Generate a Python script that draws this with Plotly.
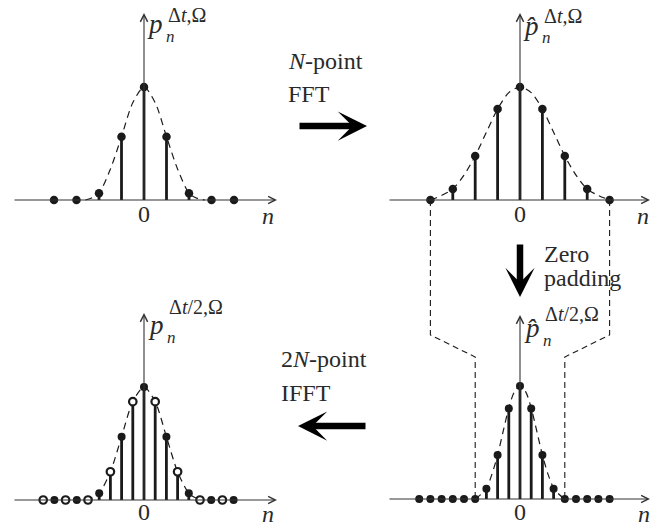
import plotly.graph_objects as go

W, H = 659, 531

# ---------------- data ----------------
n_N = [-4, -3, -2, -1, 0, 1, 2, 3, 4]
p_N = [0, 0, 0.06, 0.56, 1, 0.56, 0.06, 0, 0]
ph_N = [0, 0.097, 0.39, 0.805, 1, 0.805, 0.39, 0.097, 0]

n_2N = list(range(-9, 9))
p_2N = [0, 0, 0, 0, 0, 0.06, 0.25, 0.56, 0.87, 1, 0.87, 0.56, 0.25, 0.06, 0, 0, 0, 0]
ph_2N = [0, 0, 0, 0, 0, 0, 0.09, 0.39, 0.80, 1, 0.80, 0.39, 0.09, 0, 0, 0, 0, 0]

env1_n = [-2.6, -2.3, -2, -1.5, -1, -0.5, 0, 0.5, 1, 1.5, 2, 2.3, 2.7]
env1_v = [0, 0.02, 0.06, 0.27, 0.56, 0.86, 1, 0.86, 0.56, 0.27, 0.06, 0.02, 0]
env2_n = [-4, -3.5, -3, -2.5, -2, -1.5, -1, -0.5, 0, 0.5, 1, 1.5, 2, 2.5, 3, 3.5, 4]
env2_v = [0, 0.04, 0.097, 0.22, 0.39, 0.60, 0.805, 0.95, 1, 0.95, 0.805, 0.60, 0.39, 0.22, 0.097, 0.04, 0]
env3_n = [-5.2, -4.6, -4, -3, -2, -1, 0, 1, 2, 3, 4, 4.6, 5.3]
env3_v = [0, 0.02, 0.06, 0.25, 0.56, 0.87, 1, 0.87, 0.56, 0.25, 0.06, 0.02, 0]
env4_n = env2_n
env4_v = env2_v

# ---------------- geometry helpers ----------------
panels = [
    dict(box=(0, 292, 0, 245), ox=144, oy=200, sx=22.5, sy=113),
    dict(box=(372, 659, 0, 245), ox=520, oy=200, sx=22.4, sy=113),
    dict(box=(0, 292, 290, 531), ox=144, oy=500, sx=11.2, sy=113),
    dict(box=(372, 659, 290, 531), ox=520, oy=499, sx=11.2, sy=113),
]

def px(x):
    return x / W

def py(y):
    return 1 - y / H

fig = go.Figure()
layout_axes = {}
for i, p in enumerate(panels):
    x0, x1, y0, y1 = p["box"]
    xr = [(x0 - p["ox"]) / p["sx"], (x1 - p["ox"]) / p["sx"]]
    yr = [(p["oy"] - y1) / p["sy"], (p["oy"] - y0) / p["sy"]]
    k = "" if i == 0 else str(i + 1)
    layout_axes["xaxis" + k] = dict(domain=[px(x0), px(x1)], range=xr, visible=False,
                                    anchor="y" + k, fixedrange=True)
    layout_axes["yaxis" + k] = dict(domain=[py(y1), py(y0)], range=yr, visible=False,
                                    anchor="x" + k, fixedrange=True)
    p["k"] = k

def n2px(i, n):
    p = panels[i]
    return p["ox"] + n * p["sx"]

INK = "#1a1a1a"
TXT = "#2a2a2a"
AX = "#333333"

def stems(ns, vs):
    xs, ys = [], []
    for n, v in zip(ns, vs):
        if v > 0:
            xs += [n, n, None]
            ys += [0, v, None]
    return xs, ys

def add_panel(i, ns, vs, env_n, env_v, open_mask=None, msize=8.5):
    k = panels[i]["k"]
    xa, ya = "x" + k, "y" + k
    fig.add_trace(go.Scatter(x=env_n, y=env_v, mode="lines",
                             line=dict(color=INK, width=1.2, dash="7px,5px", shape="spline", smoothing=0.8),
                             xaxis=xa, yaxis=ya, hoverinfo="skip", showlegend=False, cliponaxis=False))
    sx, sy = stems(ns, vs)
    fig.add_trace(go.Scatter(x=sx, y=sy, mode="lines", line=dict(color=INK, width=2.8),
                             xaxis=xa, yaxis=ya, hoverinfo="skip", showlegend=False))
    if open_mask is None:
        open_mask = [False] * len(ns)
    fx = [n for n, o in zip(ns, open_mask) if not o]
    fy = [v for v, o in zip(vs, open_mask) if not o]
    ox_ = [n for n, o in zip(ns, open_mask) if o]
    oy_ = [v for v, o in zip(vs, open_mask) if o]
    fig.add_trace(go.Scatter(x=fx, y=fy, mode="markers", marker=dict(color=INK, size=msize),
                             xaxis=xa, yaxis=ya, showlegend=False, cliponaxis=False))
    if ox_:
        fig.add_trace(go.Scatter(x=ox_, y=oy_, mode="markers",
                                 marker=dict(color="white", size=msize - 0.5, line=dict(color=INK, width=2.2)),
                                 xaxis=xa, yaxis=ya, showlegend=False, cliponaxis=False))

add_panel(0, n_N, p_N, env1_n, env1_v)
add_panel(1, n_N, ph_N, env2_n, env2_v)
add_panel(2, n_2N, p_2N, env3_n, env3_v, open_mask=[n % 2 != 0 for n in n_2N], msize=8)
add_panel(3, n_2N, ph_2N, env4_n, env4_v, msize=8)

annotations = []
axis_px = [(13, 277, 13), (388, 650, 13), (13, 277, 313), (388, 650, 315)]
for i, p in enumerate(panels):
    k = p["k"]
    xs, xt, yt = axis_px[i]
    annotations.append(dict(x=(xt - p["ox"]) / p["sx"], y=0, ax=(xs - p["ox"]) / p["sx"], ay=0,
                            xref="x" + k, yref="y" + k, axref="x" + k, ayref="y" + k,
                            text="", showarrow=True, arrowhead=5, arrowsize=1.3, arrowwidth=1.1, arrowcolor=AX))
    annotations.append(dict(x=0, y=(p["oy"] - yt) / p["sy"], ax=0, ay=0,
                            xref="x" + k, yref="y" + k, axref="x" + k, ayref="y" + k,
                            text="", showarrow=True, arrowhead=5, arrowsize=1.3, arrowwidth=1.1, arrowcolor=AX))

FONT = "Liberation Serif"
def txt(x, y, s, size=24, xanchor="left", yanchor="middle"):
    annotations.append(dict(x=px(x), y=py(y), xref="paper", yref="paper", text=s, showarrow=False,
                            xanchor=xanchor, yanchor=yanchor, borderpad=0,
                            font=dict(family=FONT, size=size, color=TXT)))

for (x0, y0) in [(144, 214), (520, 214), (144, 512), (520, 512)]:
    txt(x0, y0, "0", xanchor="center")
for (x0, y0) in [(268, 216), (643, 216), (268, 514), (644, 514)]:
    txt(x0, y0, "<i>n</i>", xanchor="center")

# panel titles: base letter, subscript n, superscript stacked
def plabel(xr, yb, hat, sup, ys):
    base = "<i>p̂</i>" if hat else "<i>p</i>"
    txt(xr, yb, base, size=27, xanchor="right")
    txt(xr + 1, yb + 12, "<i>n</i>", size=17)
    txt(xr + 3, ys, sup, size=20)

plabel(164, 24, False, "Δ<i>t</i>,Ω", 15)
plabel(540, 26, True, "Δ<i>t</i>,Ω", 16)
plabel(165, 325, False, "Δ<i>t</i>/2,Ω", 307)
plabel(541, 328, True, "Δ<i>t</i>/2,Ω", 314)

# middle texts
txt(287, 61, "<i>N</i>-point")
txt(287, 94, "FFT")
txt(280, 359, "2<i>N</i>-point")
txt(280, 393, "IFFT")
txt(543, 254, "Zero")
txt(543, 278, "padding")

def thick(xt, yt, xs, ys):
    annotations.append(dict(x=px(xt), y=py(yt), xref="paper", yref="paper", ax=xs - xt, ay=ys - yt,
                            axref="pixel", ayref="pixel", text="", showarrow=True, arrowhead=3,
                            arrowsize=0.75, arrowwidth=6.5, arrowcolor="#000000"))

thick(367, 126, 298, 126)
thick(298, 426, 367, 426)
thick(520, 297, 520, 243)

shapes = []
yl_break1, yl_break2 = 335, 357
for nn in (-4, 4):
    xt = n2px(1, nn)
    xb = n2px(3, nn)
    path = "M {a},{b} L {c},{d} L {e},{f} L {g},{h}".format(
        a=px(xt), b=py(panels[1]["oy"]), c=px(xt), d=py(yl_break1),
        e=px(xb), f=py(yl_break2), g=px(xb), h=py(panels[3]["oy"]))
    shapes.append(dict(type="path", path=path, xref="paper", yref="paper",
                       line=dict(color=INK, width=1.1, dash="6px,4px"), layer="below"))

fig.update_layout(width=W, height=H, margin=dict(l=0, r=0, t=0, b=0), paper_bgcolor="white",
                  plot_bgcolor="rgba(0,0,0,0)", showlegend=False, annotations=annotations, shapes=shapes,
                  **layout_axes)

fig.write_html("out.html", config={"displayModeBar": False})
